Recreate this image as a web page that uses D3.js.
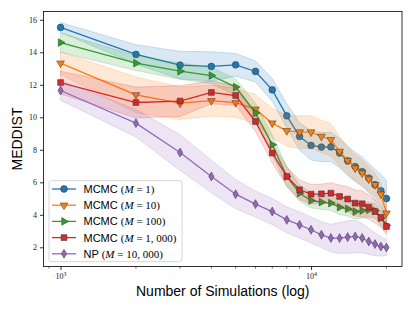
<!DOCTYPE html>
<html lang="en">
	<head>
		<meta charset="UTF-8">
		<title>MEDDIST vs simulations</title>
		<script src="https://d3js.org/d3.v7.min.js"></script>
		<style>
			body {
				margin: 0;
				background: white;
			}

			.tick text {
				font-family: "Liberation Serif", "DejaVu Serif", serif;
				font-size: 8px;
				fill: #222;
			}

			.label {
				font-family: "Liberation Sans", Arial, sans-serif;
				font-size: 14px;
				fill: black;
			}

			.legend text {
				font-size: 11px;
				fill: black;
			}

			.sans {
				font-family: "Liberation Sans", Arial, sans-serif;
			}

			.math {
				font-family: "Liberation Serif", "DejaVu Serif", serif;
			}
		</style>
	</head>
	<body>
		<svg id="chart" width="415" height="311"></svg>
		<script>
			const sims = [1000, 2000, 3000, 4000, 5000, 6000, 7000, 8000, 9000, 10000,
				11000, 12000, 13000, 14000, 15000, 16000, 17000, 18000, 19000, 20000]

			const mcmc1 = [15.53, 13.87, 13.21, 13.13, 13.23, 12.82, 11.69, 10.09, 8.82, 8.27,
				8.17, 8.18, 7.8, 7.32, 6.97, 6.66, 6.26, 5.85, 5.48, 5.0]
			const mcmc1Std = [0.3, 0.6, 0.85, 0.9, 0.7, 0.65, 0.7, 0.75, 0.85, 0.9,
				0.9, 0.9, 0.9, 0.9, 0.9, 0.9, 0.9, 0.95, 1.0, 1.1]

			const mcmc10 = [13.33, 11.38, 10.87, 11.02, 10.9, 10.5, 9.64, 9.17, 9.09, 9.09,
				8.82, 8.62, 7.9, 7.34, 6.87, 6.57, 6.2, 5.85, 5.27, 4.1]
			const mcmc10Std = [0.7, 1.1, 1.0, 0.95, 0.9, 0.9, 0.9, 0.95, 1.0, 1.0,
				1.0, 1.0, 0.9, 0.85, 0.8, 0.8, 0.75, 0.7, 0.65, 0.6]

			const mcmc100 = [14.6, 13.33, 12.84, 12.57, 11.86, 10.26, 8.31, 6.36, 5.33, 4.88,
				4.78, 4.72, 4.47, 4.37, 4.2, 4.26, 4.31, 4.25, 3.8, 3.35]
			const mcmc100Std = [0.6, 0.45, 0.5, 0.5, 0.5, 0.6, 0.6, 0.6, 0.5, 0.45,
				0.45, 0.45, 0.45, 0.45, 0.45, 0.45, 0.45, 0.45, 0.45, 0.4]

			const mcmc1000 = [12.14, 10.91, 11.0, 11.53, 11.34, 9.74, 7.8, 6.36, 5.54, 5.27,
				5.29, 5.33, 5.13, 4.97, 4.72, 4.68, 4.47, 4.2, 3.84, 3.28]
			const mcmc1000Std = [0.7, 0.95, 0.95, 0.7, 0.6, 0.6, 0.6, 0.6, 0.6, 0.6,
				0.6, 0.65, 0.7, 0.75, 0.8, 0.8, 0.75, 0.7, 0.6, 0.5]

			const np = [11.65, 9.64, 7.83, 6.36, 5.27, 4.66, 4.2, 3.69, 3.38, 3.08,
				2.77, 2.57, 2.57, 2.63, 2.67, 2.57, 2.36, 2.2, 2.05, 1.99]
			const npStd = [0.6, 0.85, 1.1, 1.0, 0.9, 0.8, 0.8, 0.8, 0.8, 0.8,
				0.8, 0.85, 0.95, 1.0, 1.0, 0.9, 0.8, 0.7, 0.6, 0.5]

			const seriesNames = ["MCMC", "MCMC", "MCMC", "MCMC", "NP"]
			const seriesM = ["1", "10", "100", "1, 000", "10, 000"]
			const colors = ["#1f77b4", "#ff7f0e", "#2ca02c", "#d62728", "#9467bd"]
			const yTicks = [2, 4, 6, 8, 10, 12, 14, 16]

			const series = [
				{ mean: mcmc1, std: mcmc1Std, marker: "circle" },
				{ mean: mcmc10, std: mcmc10Std, marker: "down" },
				{ mean: mcmc100, std: mcmc100Std, marker: "right" },
				{ mean: mcmc1000, std: mcmc1000Std, marker: "square" },
				{ mean: np, std: npStd, marker: "diamond" }
			]
			series.forEach((s, i) => {
				s.color = colors[i]
				s.name = seriesNames[i]
				s.m = seriesM[i]
				s.points = sims.map((x, j) => ({ x: x, y: s.mean[j], lo: s.mean[j] - s.std[j], hi: s.mean[j] + s.std[j] }))
			})

			const margin = { left: 43.5, right: 13, top: 11.5, bottom: 44.5 }
			const width = 415, height = 311
			const svg = d3.select("#chart")

			const x = d3.scaleLog()
				.domain([855, 23070])
				.range([margin.left, width - margin.right])
			const y = d3.scaleLinear()
				.domain([0.82, 16.51])
				.range([height - margin.bottom, margin.top])

			// bands and lines
			const area = d3.area().x(d => x(d.x)).y0(d => y(d.lo)).y1(d => y(d.hi))
			const line = d3.line().x(d => x(d.x)).y(d => y(d.y))

			function markerPath(kind) {
				if (kind === "circle") return d3.symbol(d3.symbolCircle, 36)()
				if (kind === "square") return d3.symbol(d3.symbolSquare, 34)()
				if (kind === "diamond") return d3.symbol(d3.symbolDiamond, 23)()
				return d3.symbol(d3.symbolTriangle, 26)()
			}
			function markerRot(kind) {
				if (kind === "down") return " rotate(180)"
				if (kind === "right") return " rotate(90)"
				return ""
			}

			const plot = svg.append("g")
			series.forEach(s => {
				plot.append("path")
					.datum(s.points)
					.attr("d", area)
					.attr("fill", s.color)
					.attr("fill-opacity", 0.17)
					.attr("stroke", s.color)
					.attr("stroke-opacity", 0.25)
					.attr("stroke-width", 0.8)
				plot.append("path")
					.datum(s.points)
					.attr("d", line)
					.attr("fill", "none")
					.attr("stroke", s.color)
					.attr("stroke-width", 1.3)
				plot.selectAll(null)
					.data(s.points)
					.join("path")
					.attr("d", markerPath(s.marker))
					.attr("transform", d => "translate(" + x(d.x) + "," + y(d.y) + ")" + markerRot(s.marker))
					.attr("fill", s.color)
					.attr("stroke", "#333")
					.attr("stroke-width", 0.5)
			})

			// axes
			const xMinor = [900, 2000, 3000, 4000, 5000, 6000, 7000, 8000, 9000, 20000]
			const xAxis = svg.append("g")
				.attr("transform", "translate(0," + (height - margin.bottom) + ")")
			xAxis.call(d3.axisBottom(x).tickValues([1000, 10000]).tickSize(3.5).tickPadding(3).tickFormat(""))
			xAxis.selectAll(".tick").each(function (d) {
				const t = d3.select(this).select("text")
				t.text("10")
				t.append("tspan").attr("dy", "-0.45em").attr("font-size", "6px").text(Math.round(Math.log10(d)))
			})
			xAxis.append("g").selectAll("line")
				.data(xMinor)
				.join("line")
				.attr("x1", d => x(d)).attr("x2", d => x(d))
				.attr("y1", 0).attr("y2", 2)
				.attr("stroke", "black").attr("stroke-width", 0.6)
			xAxis.select(".domain").remove()

			const yAxis = svg.append("g")
				.attr("transform", "translate(" + margin.left + ",0)")
			yAxis.call(d3.axisLeft(y).tickValues(yTicks).tickSize(3.5).tickPadding(3))
			yAxis.select(".domain").remove()
			svg.selectAll(".tick line").attr("stroke-width", 0.8)

			svg.append("rect")
				.attr("x", margin.left)
				.attr("y", margin.top)
				.attr("width", width - margin.right - margin.left)
				.attr("height", height - margin.bottom - margin.top)
				.attr("fill", "none")
				.attr("stroke", "black")
				.attr("stroke-width", 0.8)

			svg.append("text")
				.classed("label", true)
				.attr("text-anchor", "middle")
				.attr("x", (margin.left + width - margin.right) / 2)
				.attr("y", 296)
				.text("Number of Simulations (log)")

			svg.append("text")
				.classed("label", true)
				.attr("text-anchor", "middle")
				.attr("transform", "translate(21.5," + ((margin.top + height - margin.bottom) / 2) + ") rotate(-90)")
				.text("MEDDIST")

			// legend
			const legend = svg.append("g").classed("legend", true)
			legend.append("rect")
				.attr("x", 49).attr("y", 180.7)
				.attr("width", 133).attr("height", 81)
				.attr("rx", 2.5)
				.attr("fill", "white").attr("fill-opacity", 0.8)
				.attr("stroke", "#ccc").attr("stroke-width", 0.8)
			series.forEach((s, i) => {
				const ly = 189 + i * 16.2
				const g = legend.append("g")
				g.append("line")
					.attr("x1", 52).attr("x2", 76)
					.attr("y1", ly).attr("y2", ly)
					.attr("stroke", s.color).attr("stroke-width", 1.3)
				g.append("path")
					.attr("d", markerPath(s.marker))
					.attr("transform", "translate(64," + ly + ")" + markerRot(s.marker))
					.attr("fill", s.color)
					.attr("stroke", "#333")
					.attr("stroke-width", 0.5)
				const t = g.append("text").attr("x", 83.5).attr("y", ly + 3.9)
				t.append("tspan").classed("sans", true).text(s.name + " ")
				t.append("tspan").classed("math", true).text("(")
				t.append("tspan").classed("math", true).attr("font-style", "italic").text("M")
				t.append("tspan").classed("math", true).text(" = " + s.m + ")")
			})
		</script>
	</body>
</html>
